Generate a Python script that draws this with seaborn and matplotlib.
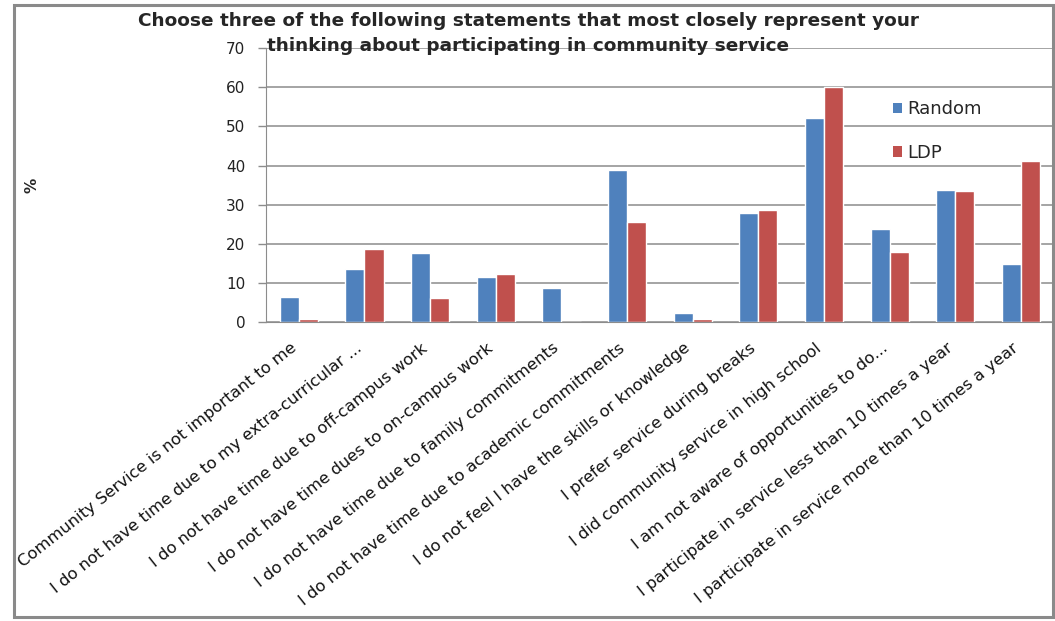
import matplotlib
matplotlib.use("Agg")
import matplotlib.pyplot as plt
import matplotlib.transforms as mtransforms
from matplotlib.patches import Rectangle, Patch
import seaborn as sns
import pandas as pd

# Survey responses, percent of each group choosing the statement
statements = [
    "Community Service is not important to me",
    "I do not have time due to my extra-curricular ...",
    "I do not have time due to off-campus work",
    "I do not have time dues to on-campus work",
    "I do not have time due to family commitments",
    "I do not have time due to academic commitments",
    "I do not feel I have the skills or knowledge",
    "I prefer service during breaks",
    "I did community service in high school",
    "I am not aware of opportunities to do...",
    "I participate in service less than 10 times a year",
    "I participate in service more than 10 times a year",
]
random_pct = [6.5, 13.5, 17.7, 11.5, 8.8, 38.9, 2.4, 27.8, 52.2, 23.8, 33.7, 14.8]
ldp_pct = [0.8, 18.6, 6.2, 12.4, 0.0, 25.6, 0.8, 28.6, 60.0, 17.9, 33.4, 41.3]
groups = ["Random", "LDP"]
colors = ["#4F81BD", "#C0504D"]
y_ticks = [0, 10, 20, 30, 40, 50, 60, 70]
title_lines = ["Choose three of the following statements that most closely represent your",
               "thinking about participating in community service"]

df = pd.DataFrame({
    "statement": statements * 2,
    "pct": random_pct + ldp_pct,
    "group": [groups[0]] * len(statements) + [groups[1]] * len(statements),
})

sns.set_style("white")
plt.rcParams["font.family"] = ["DejaVu Sans"]

fig = plt.figure(figsize=(10.55, 6.21), dpi=100)
ax = fig.add_axes([0.2521, 0.481, 0.7469, 0.4416])

sns.barplot(data=df, x="statement", y="pct", hue="group", order=statements,
            hue_order=groups, palette=colors, width=0.58, gap=0,
            saturation=1, ax=ax, legend=False, errorbar=None)

ax.set_ylim(0, 70)
ax.set_xlim(-0.5, len(statements) - 0.5)
ax.set_yticks(y_ticks)
ax.set_yticklabels([str(t) for t in y_ticks], fontsize=11, color="#222222")
ax.yaxis.grid(True, color="#8c8c8c", linewidth=1.1)
ax.set_axisbelow(True)

# category separators on the x axis
ax.set_xticks([i - 0.5 for i in range(len(statements) + 1)], minor=True)
ax.tick_params(axis="x", which="minor", length=6, color="#8c8c8c", width=1)
ax.tick_params(axis="x", which="major", length=0, pad=13)
ax.tick_params(axis="y", length=6, color="#8c8c8c", width=1, pad=9, left=True)
ax.set_xticks(range(len(statements)))
ax.set_xticklabels(statements, rotation=38.5, ha="right", rotation_mode="anchor",
                   fontsize=11.8, color="#111111")
shift = mtransforms.ScaledTranslation(-9 / 100, 0, fig.dpi_scale_trans)
for lbl in ax.get_xticklabels():
    lbl.set_transform(lbl.get_transform() + shift)

for side in ["top", "right"]:
    ax.spines[side].set_visible(False)
ax.spines["left"].set_color("#8c8c8c")
ax.spines["bottom"].set_color("#8c8c8c")
ax.set_xlabel("")
ax.set_ylabel("")

fig.text(0.0303, 0.702, "%", rotation=90, fontsize=11, fontweight="bold",
         ha="center", va="center")
fig.text(0.5005, 0.9665, title_lines[0], ha="center", va="center",
         fontsize=13.3, fontweight="bold")
fig.text(0.5005, 0.9265, title_lines[1], ha="center", va="center",
         fontsize=13.3, fontweight="bold")

handles = [Patch(facecolor=c, edgecolor="none") for c in colors]
fig.legend(handles, groups, loc="upper left", bbox_to_anchor=(0.8398, 0.85),
           frameon=False, fontsize=13, handlelength=0.5, handleheight=0.5,
           handletextpad=0.3, labelspacing=1.42, borderaxespad=0)

# outer chart frame
fig.patches.append(Rectangle((0.0133, 0.0064), 0.985, 0.9855,
                             transform=fig.transFigure, fill=False,
                             edgecolor="#8a8a8a", linewidth=2.2))

fig.savefig("out.png", dpi=100)
